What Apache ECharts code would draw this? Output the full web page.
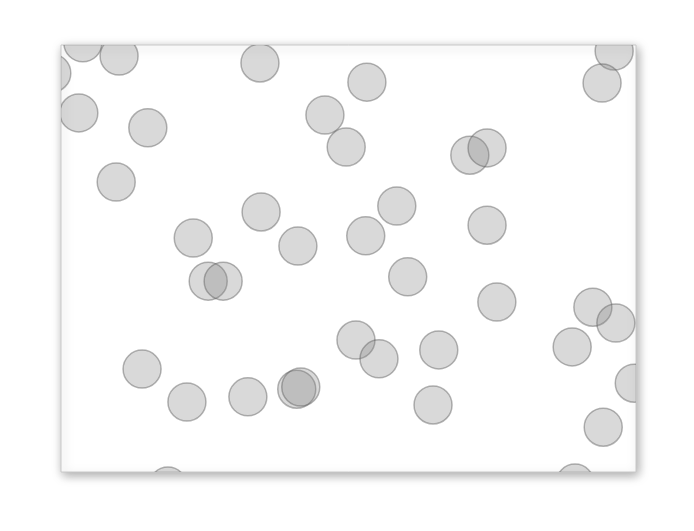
<!DOCTYPE html>
<html>
<head>
<meta charset="utf-8">
<script src="https://cdn.jsdelivr.net/npm/echarts@6/dist/echarts.min.js"></script>
<style>
  html, body { margin: 0; padding: 0; background: #fff; }
  #chart { width: 694px; height: 531px; }
</style>
</head>
<body>
<div id="chart"></div>
<script>
// bubble positions (0-100 on both axes)
const xValues = [3.8, 10.1, -1.6, 3.1, 15.1, 9.6, 34.6, 45.9, 49.6, 53.2,
  34.8, 23.0, 41.2, 53.0, 96.2, 94.1, 71.1, 74.1, 58.4, 74.1,
  60.3, 25.6, 28.2, 14.1, 21.9, 32.5, 41.0, 41.7, 51.3, 55.3,
  18.6, 75.8, 65.7, 64.7, 92.5, 96.5, 88.9, 99.7, 94.3, 89.4];
const yValues = [100.5, 97.4, 93.4, 84.1, 80.6, 67.9, 95.8, 83.6, 76.1, 91.3,
  60.9, 54.8, 52.9, 55.3, 98.6, 91.1, 74.2, 75.9, 62.3, 57.8,
  45.7, 44.7, 44.7, 24.1, 16.4, 17.6, 19.4, 19.9, 30.9, 26.5,
  -3.3, 39.8, 28.6, 15.7, 38.6, 34.9, 29.3, 20.8, 10.5, -2.6];

const points = xValues.map((x, i) => [x, yValues[i]]);

let chart = echarts.init(document.getElementById('chart'));
chart.setOption({
  animation: false,
  grid: {
    left: 61, top: 45, right: 58, bottom: 59,
    show: true,
    backgroundColor: '#fff',
    borderColor: '#c8c8c8',
    borderWidth: 1,
    shadowBlur: 10,
    shadowColor: 'rgba(0,0,0,0.35)',
    shadowOffsetX: 2,
    shadowOffsetY: 3
  },
  xAxis: { type: 'value', min: 0, max: 100, show: false },
  yAxis: { type: 'value', min: 0, max: 100, show: false },
  series: [{
    type: 'custom',
    clip: true,
    data: points,
    renderItem: function (params, api) {
      let p = api.coord([api.value(0), api.value(1)]);
      return {
        type: 'circle',
        shape: { cx: p[0], cy: p[1], r: 19 },
        style: {
          fill: 'rgba(128,128,128,0.3)',
          stroke: 'rgba(90,90,90,0.45)',
          lineWidth: 1.5
        }
      };
    }
  }]
});
</script>
</body>
</html>
